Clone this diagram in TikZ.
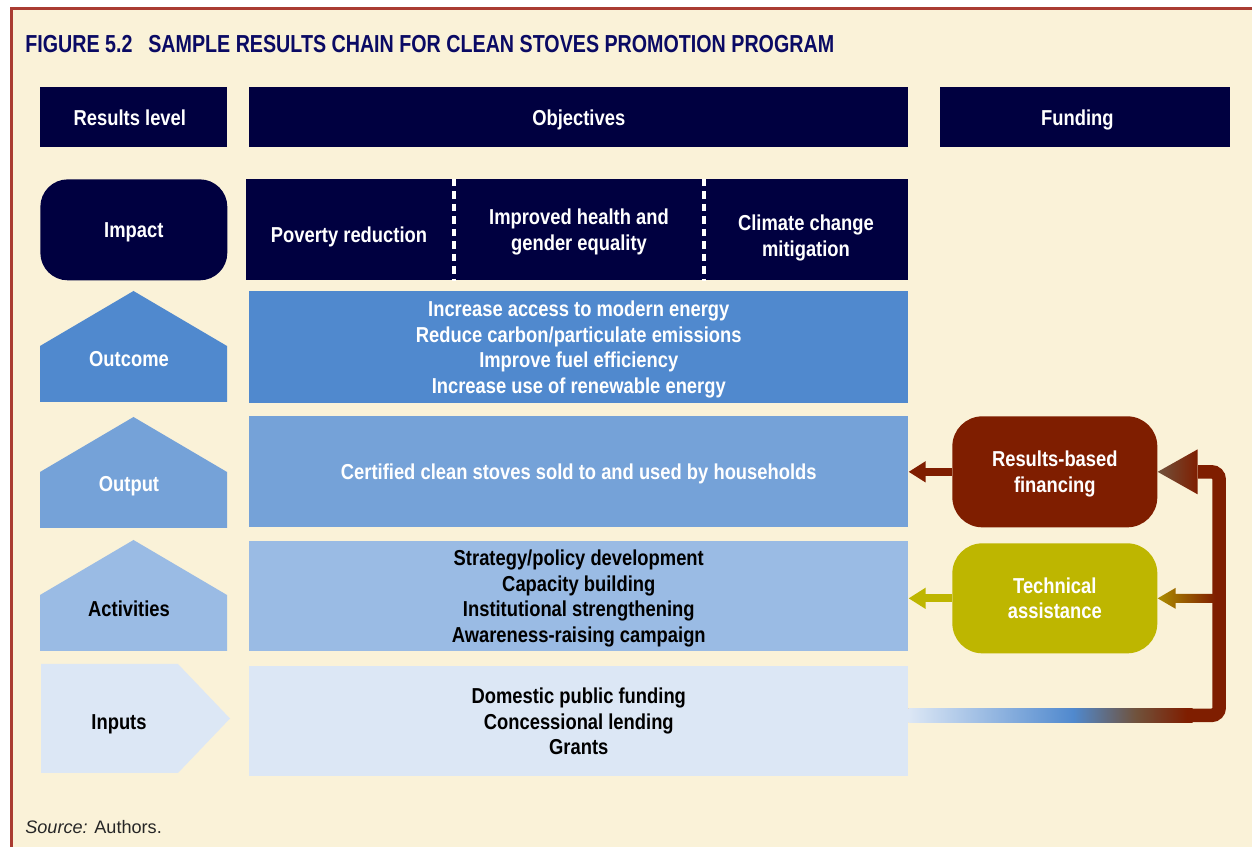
\documentclass[tikz,border=0pt]{standalone}
\usepackage{fontspec}
\setmainfont{Liberation Sans}[FakeStretch=0.85]
\newfontfamily\titlefont{Liberation Sans}[FakeStretch=0.8]
\newfontfamily\srcfont{Liberation Sans}
\usetikzlibrary{arrows.meta,calc,positioning}

\definecolor{navy}{RGB}{0,0,64}
\definecolor{titleblue}{RGB}{10,10,100}
\definecolor{cream}{RGB}{250,242,216}
\definecolor{framered}{RGB}{170,60,50}
\definecolor{outcomeblue}{RGB}{80,137,206}
\definecolor{outputblue}{RGB}{117,162,216}
\definecolor{activblue}{RGB}{154,187,228}
\definecolor{inputsblue}{RGB}{220,231,245}
\definecolor{rbfred}{RGB}{127,30,0}
\definecolor{rbftip}{RGB}{112,82,60}
\definecolor{taolive}{RGB}{190,182,0}
\definecolor{tagold}{RGB}{172,142,0}
\pgfdeclarehorizontalshading{inflow}{100bp}{color(0bp)=(inputsblue); color(25bp)=(inputsblue); color(54bp)=(outcomeblue); color(65bp)=(rbftip); color(74bp)=(rbfred); color(100bp)=(rbfred)}

\begin{document}
\begin{tikzpicture}[x=0.02cm, y=-0.02cm,
    every node/.style={inner sep=0pt, text depth=0pt, font=\bfseries\fontsize{12.3}{14.6}\selectfont},
    hdr/.style={fill=navy, text=white, minimum height=1.2cm, anchor=north west},
    rowbox/.style={minimum width=13.18cm, anchor=north west, align=center},
    fundbox/.style={rounded corners=0.6cm, minimum width=4.1cm, anchor=north west, align=center, text=white},
    divider/.style={white, line width=0.08cm, dash pattern=on 0.15cm off 0.1cm},
    sidearrow/.style={-{Triangle[length=3.4mm,width=4mm]}, line width=1.6mm}]
    \useasboundingbox (0,0) rectangle (1252,847);
    \fill[white] (0,0) rectangle (1252,847);
    \fill[cream] (11,8) rectangle (1252,847);
    \draw[framered, line width=0.05cm] (11.5,847) -- (11.5,8.5) -- (1252,8.5);

    \node[anchor=west, text=titleblue, font=\titlefont\bfseries\fontsize{14}{16}\selectfont] (title) at (25,44)
        {FIGURE 5.2\hspace{9pt}SAMPLE RESULTS CHAIN FOR CLEAN STOVES PROMOTION PROGRAM};

    \node[hdr, minimum width=3.74cm] (level) at (40,87) {Results level\kern4.5pt};
    \node[hdr, minimum width=13.18cm] (objectives) at (249,87) {Objectives};
    \node[hdr, minimum width=5.8cm] (funding) at (940,87) {Funding\kern9pt};

    \node[hdr, rounded corners=0.55cm, minimum width=3.74cm, minimum height=2.02cm] (impact) at (40,179) {Impact};
    \node[rowbox, fill=navy, minimum width=13.24cm, minimum height=2.02cm] (goals) at (246,179) {};
    \foreach \x in {208,458}
        \draw[divider] ($(goals.north west)+(\x,0)$) -- ($(goals.south west)+(\x,0)$);
    \node[text=white] (poverty) at (349,235) {Poverty reduction};
    \node[text=white, align=center] (health) at (579,230) {Improved health and\\gender equality};
    \node[text=white, align=center] (climate) at (806,236) {Climate change\\mitigation};

    \foreach \top/\col in {291/outcomeblue, 417/outputblue, 540/activblue}
        \fill[\col] (40,\top+111) -- (40,\top+55) -- (133.5,\top) -- (227,\top+55) -- (227,\top+111) -- cycle;
    \fill[inputsblue] (41,664) -- (178,664) -- (230,718.5) -- (178,773) -- (41,773) -- cycle;
    \node[text=white] (outcomelbl) at (129,359) {Outcome};
    \node[text=white] (outputlbl) at (129,484) {Output};
    \node (activlbl) at (129,609) {Activities};
    \node (inputslbl) at (119,722) {Inputs};

    \node[rowbox, fill=outcomeblue, minimum height=2.24cm, text=white] (outcome) at (249,291)
        {Increase access to modern energy\\Reduce carbon/particulate emissions\\Improve fuel efficiency\\Increase use of renewable energy};
    \node[rowbox, fill=outputblue, minimum height=2.22cm, text=white] (output) at (249,416)
        {Certified clean stoves sold to and used by households};
    \node[rowbox, fill=activblue, minimum height=2.2cm] (activities) at (249,541)
        {Strategy/policy development\\Capacity building\\Institutional strengthening\\Awareness-raising campaign};
    \node[rowbox, fill=inputsblue, minimum height=2.2cm] (inputs) at (249,666)
        {Domestic public funding\\Concessional lending\\Grants};

    \node[fundbox, fill=rbfred, minimum height=2.22cm] (rbf) at (952,416) {Results-based\\financing};
    \node[fundbox, fill=taolive, minimum height=2.2cm] (ta) at (952,543) {Technical\\assistance};

    \draw[sidearrow, rbfred] (rbf.west) -- (output.east);
    \draw[sidearrow, taolive] (ta.west) -- (ta.west -| activities.east);

    \coordinate (loopin) at ($(inputs.east)+(0,-6)$);
    \path (rbf.east) ++(61.5,0) coordinate (looptop);
    \draw[rbfred, line width=0.27cm, rounded corners=0.15cm] (loopin) -| (looptop) -- ++(-21,0);
    \shade[shading=inflow] ($(loopin)+(0,-6.75)$) rectangle ($(loopin)+(284,6.75)$);
    \shade[left color=rbftip, right color=rbfred] (rbf.east) -- ++(40,-22.5) -- ++(0,45) -- cycle;
    \shade[left color=tagold, right color=rbfred] (ta.east) -- ++(18,-10.5) -- ++(0,6) -- ++(40,0)
        -- ++(0,9) -- ++(-40,0) -- ++(0,6) -- cycle;

    \node[anchor=west, text=black!85, font=\srcfont\fontsize{10.3}{12}\selectfont] (source) at (25,827)
        {\textit{Source:} Authors.};
\end{tikzpicture}
\end{document}
